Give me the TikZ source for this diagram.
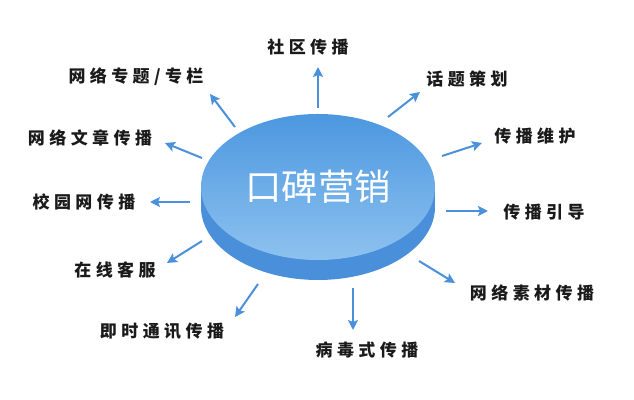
\documentclass[tikz,border=0pt]{standalone}
\usepackage{fontspec}
\newfontfamily\cjk[LetterSpace=26]{Noto Sans CJK SC}
\newfontfamily\cjktitle{Noto Sans CJK SC}
\usepackage{tikz}
\usetikzlibrary{shapes.geometric, arrows.meta}
\definecolor{arrowblue}{HTML}{4A90DA}
\definecolor{disktop}{HTML}{4C97E0}
\definecolor{diskbottom}{HTML}{8DC2EF}
\definecolor{diskside}{HTML}{4A8FDA}
\definecolor{labelgray}{HTML}{1A1A1A}
\tikzstyle{branch} = [inner sep=0pt, text=labelgray, font=\cjk\bfseries\fontsize{14.5pt}{16pt}\selectfont]
\tikzstyle{arrow} = [line width=1.7pt, draw=arrowblue, -{Stealth[length=0.3cm, width=0.3cm, inset=0.06cm]}]
\tikzstyle{disk} = [ellipse, minimum width=7.02cm, minimum height=4.38cm, inner sep=0pt, top color=disktop, bottom color=diskbottom, draw=none, text=white, font=\cjktitle\fontsize{31pt}{34pt}\selectfont]

\begin{document}
\begin{tikzpicture}[x=0.03cm, y=-0.03cm]
		\useasboundingbox (0,0) rectangle (634,400);
		% side of the disk
		\fill [diskside] (318,207) ellipse [x radius=117, y radius=73];
		\fill [diskside] (201,187) rectangle (435,207);
		\node (mid) [disk] at (318,187) {口碑营销};
		
		\node (b1) [branch] at (308,47) {社区传播};
		\node (b2) [branch] at (467,79) {话题策划};
		\node (b3) [branch] at (535,136) {传播维护};
		\node (b4) [branch] at (544,212) {传播引导};
		\node (b5) [branch] at (532,293) {网络素材传播};
		\node (b6) [branch] at (367,350) {病毒式传播};
		\node (b7) [branch] at (162,331) {即时通讯传播};
		\node (b8) [branch] at (115,270) {在线客服};
		\node (b9) [branch] at (84,202) {校园网传播};
		\node (b10) [branch] at (90,138) {网络文章传播};
		\node (b11) [branch] at (136,77) {网络专题/专栏};
		
		% arrow ends
		\coordinate (s1) at (318,108); \coordinate (t1) at (318,67);
		\coordinate (s2) at (388,117); \coordinate (t2) at (420,92);
		\coordinate (s3) at (442,156); \coordinate (t3) at (482,143);
		\coordinate (s4) at (446,211); \coordinate (t4) at (488,211);
		\coordinate (s5) at (419,261); \coordinate (t5) at (455,283);
		\coordinate (s6) at (353,288); \coordinate (t6) at (353,330);
		\coordinate (s7) at (258,284); \coordinate (t7) at (235,317);
		\coordinate (s8) at (202,241); \coordinate (t8) at (167,263);
		\coordinate (s9) at (190,202); \coordinate (t9) at (150,202);
		\coordinate (s10) at (202,158); \coordinate (t10) at (165,143);
		\coordinate (s11) at (235,127); \coordinate (t11) at (210,94);
		
		\draw [arrow] (s1) -- (t1);
		\draw [arrow] (s2) -- (t2);
		\draw [arrow] (s3) -- (t3);
		\draw [arrow] (s4) -- (t4);
		\draw [arrow] (s5) -- (t5);
		\draw [arrow] (s6) -- (t6);
		\draw [arrow] (s7) -- (t7);
		\draw [arrow] (s8) -- (t8);
		\draw [arrow] (s9) -- (t9);
		\draw [arrow] (s10) -- (t10);
		\draw [arrow] (s11) -- (t11);
\end{tikzpicture}
\end{document}
